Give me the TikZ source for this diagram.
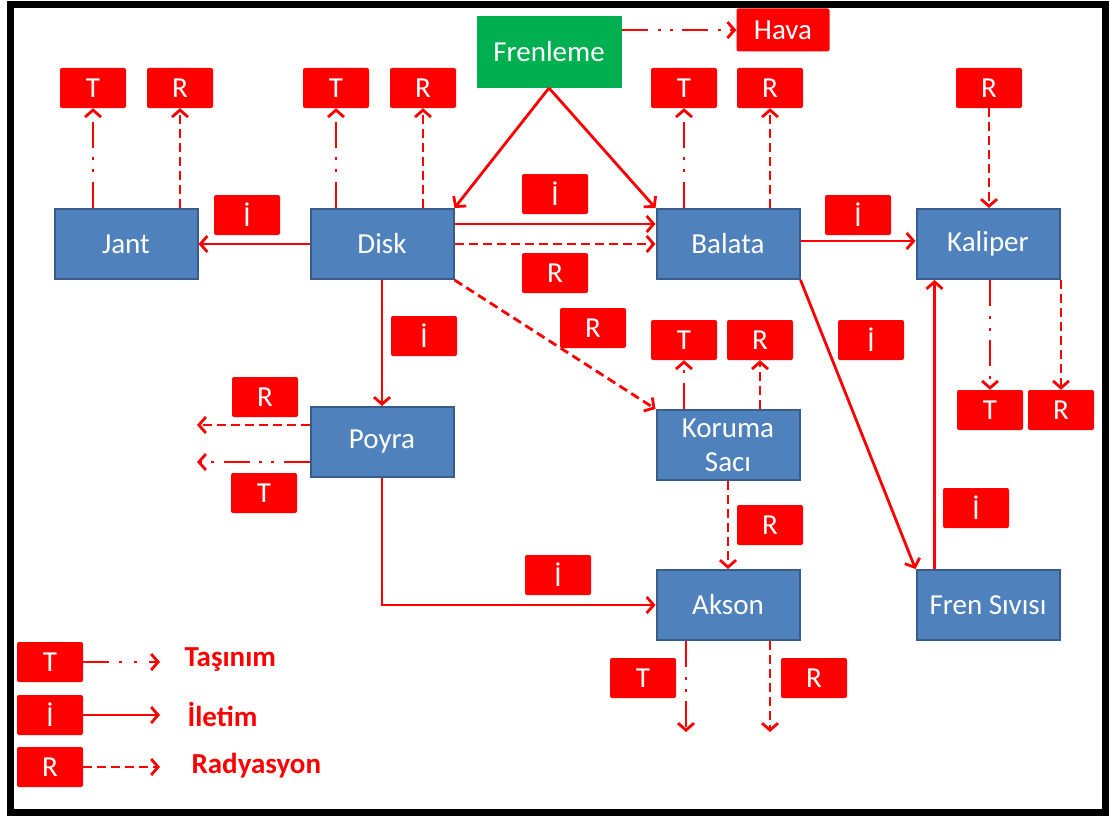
\documentclass[tikz,border=0pt]{standalone}
\usepackage{fontspec}
\setmainfont{Carlito}
\usetikzlibrary{arrows.meta}

\definecolor{kutumavi}{HTML}{4F81BD}
\definecolor{kutukenar}{HTML}{385D8A}
\definecolor{kutuyesil}{HTML}{00B050}

\tikzset{
	parca/.style={draw=kutukenar, fill=kutumavi, line width=2pt, text=white,
		minimum width=143pt, minimum height=70pt, align=center,
		font=\fontsize{29}{34}\selectfont},
	etiket/.style={fill=red, text=white, rounded corners=2pt, inner sep=0pt,
		minimum width=66pt, minimum height=40pt, font=\fontsize{29}{34}\selectfont},
	iletim/.style={draw=red, line width=2.8pt, -{Straight Barb[length=7pt,width=16pt]}},
	tasinim/.style={iletim, dash pattern=on 26pt off 10pt on 3pt off 9pt on 3pt off 9pt},
	radyasyon/.style={iletim, dash pattern=on 9pt off 5pt},
	aciklama/.style={text=red, anchor=west, font=\fontsize{29}{34}\selectfont\bfseries},
}

\begin{document}
\begin{tikzpicture}[x=1pt, y=-1pt]
			\useasboundingbox (0,0) rectangle (1109,816);
			\fill[white] (0,0) rectangle (1109,816);
			\draw[line width=7pt] (10.5,4.5) rectangle (1105.5,812.5);
			% parcalar
			\node[parca, fill=kutuyesil, draw=kutuyesil] (frenleme) at (549,52) {Frenleme};
			\node[parca] (jant) at (126,244) {Jant};
			\node[parca] (disk) at (382,244) {Disk};
			\node[parca] (balata) at (728,244) {Balata};
			\node[parca] (kaliper) at (988,244) {Kaliper};
			\node[parca] (poyra) at (382,442) {Poyra};
			\node[parca] (koruma) at (728,445) {Koruma\\Sacı};
			\node[parca] (akson) at (728,605) {Akson};
			\node[parca] (fren) at (988,605) {Fren Sıvısı};
			% etiketler
			\node[etiket, minimum width=93pt, minimum height=43pt] (hava) at (783,30) {Hava};
			\foreach \n/\x/\y/\t in {jantT/93/88/T, jantR/180/88/R, diskT/336/88/T, diskR/423/88/R,
				balataT/684/88/T, balataR/770/88/R, kaliperR/989/88/R,
				jantI/247/215/İ, diskI/555/194/İ, diskRb/555/273/R, balataI/858/215/İ,
				poyraI/424/336/İ, korumaRd/593/328/R, korumaT/684/340/T, korumaR/760/340/R,
				frenI/871/340/İ, kaliperT/990/410/T, kaliperRb/1061/410/R,
				poyraR/265/397/R, poyraT/264/493/T, aksonRk/770/525/R, kaliperI/976/508/İ,
				aksonI/558/575/İ, aksonT/643/678/T, aksonR/814/678/R,
				keyT/50/662/T, keyI/50/715/İ, keyR/50/767/R} {
				\node[etiket] (\n) at (\x,\y) {\t};
			}
			\coordinate (poyraRuc) at (197,425);
			\coordinate (poyraTuc) at (197,462);
			\coordinate (aksonTuc) at (686,732);
			\coordinate (aksonRuc) at (770,732);
			\coordinate (keyTuc) at (160,662);
			\coordinate (keyIuc) at (160,715);
			\coordinate (keyRuc) at (160,767);
			% oklar
			\draw[tasinim] (frenleme.east |- hava.west) -- (hava.west);
			\draw[iletim] (frenleme.south) -- (disk.north east);
			\draw[iletim] (frenleme.south) -- (balata.north west);
			\draw[tasinim] (jant.north -| jantT) -- (jantT.south);
			\draw[radyasyon] (jant.north -| jantR) -- (jantR.south);
			\draw[tasinim] (disk.north -| diskT) -- (diskT.south);
			\draw[radyasyon] (disk.north -| diskR) -- (diskR.south);
			\draw[tasinim] (balata.north -| balataT) -- (balataT.south);
			\draw[radyasyon] (balata.north -| balataR) -- (balataR.south);
			\draw[radyasyon] (kaliperR.south) -- (kaliperR |- kaliper.north);
			\draw[iletim] (disk.west) -- (jant.east);
			\draw[iletim] ([yshift=20pt]disk.east) -- ([yshift=20pt]balata.west);
			\draw[radyasyon] (disk.east) -- (balata.west);
			\draw[iletim] ([yshift=3pt]balata.east) -- ([yshift=3pt]kaliper.west);
			\draw[tasinim] (kaliper.south -| kaliperT) -- (kaliperT.north);
			\draw[radyasyon] (kaliper.south -| kaliperRb) -- (kaliperRb.north);
			\draw[iletim] (disk.south) -- (poyra.north);
			\draw[radyasyon] (disk.south east) -- (koruma.north west);
			\draw[tasinim] (koruma.north -| korumaT) -- (korumaT.south);
			\draw[radyasyon] (koruma.north -| korumaR) -- (korumaR.south);
			\draw[iletim] (balata.south east) -- (fren.north west);
			\draw[iletim] ([xshift=19pt]fren.north west) -- ([xshift=19pt]kaliper.south west);
			\draw[radyasyon] (poyra.west |- poyraRuc) -- (poyraRuc);
			\draw[tasinim] (poyra.west |- poyraTuc) -- (poyraTuc);
			\draw[iletim] (poyra.south) |- (akson.west);
			\draw[radyasyon] (koruma.south) -- (akson.north);
			\draw[tasinim] (akson.south -| aksonTuc) -- (aksonTuc);
			\draw[radyasyon] (akson.south -| aksonRuc) -- (aksonRuc);
			% aciklama
			\draw[tasinim, dash pattern=on 26pt off 10pt on 3pt off 12pt on 3pt off 12pt] (keyT.east) -- (keyTuc);
			\draw[iletim] (keyI.east) -- (keyIuc);
			\draw[radyasyon] (keyR.east) -- (keyRuc);
			\node[aciklama] (tasinimyazi) at (181,660) {Taşınım};
			\node[aciklama] (iletimyazi) at (184,714) {İletim};
			\node[aciklama] (radyasyonyazi) at (188,766) {Radyasyon};
		\end{tikzpicture}
\end{document}
